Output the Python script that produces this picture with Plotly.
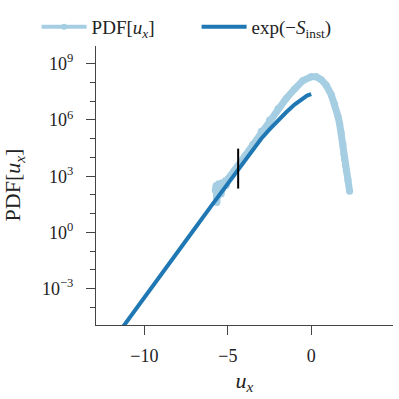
import plotly.graph_objects as go

# PDF[u_x] (u, log10 value)
pdf_u = [-5.75, -5.7, -5.66, -5.6, -5.55, -5.5, -5.45, -5.4, -5.35, -5.3, -5.2,
         -5.1, -5.0, -4.8, -4.6, -4.4, -4.2, -4.0, -3.5, -3.0, -2.5, -2.0, -1.5,
         -1.0, -0.5, 0.0, 0.3, 0.6, 0.9, 1.2, 1.4, 1.6, 1.7, 1.8, 1.9, 1.95, 2.0,
         2.05, 2.1, 2.2, 2.3]
pdf_log = [2.25, 2.5, 1.6, 2.0, 2.6, 2.2, 2.5, 2.05, 2.65, 2.35, 2.6,
           2.5, 2.85, 3.05, 3.3, 3.55, 3.8, 4.05, 4.7, 5.4, 6.0, 6.6, 7.15,
           7.65, 8.1, 8.3, 8.3, 8.15, 7.85, 7.35, 6.85, 6.2, 5.8, 5.3, 4.7, 4.2, 3.9,
           3.6, 3.3, 2.8, 2.2]

# exp(-S_inst)
inst_u = [-11.5, -11, -10, -9, -8, -7, -6, -5, -4.5, -4, -3.5, -3, -2.5, -2,
          -1.5, -1, -0.5, -0.25, 0]
inst_log = [-5.3, -4.7, -3.48, -2.26, -1.04, 0.18, 1.4, 2.62, 3.24, 3.85, 4.44,
            5.0, 5.5, 5.97, 6.41, 6.82, 7.17, 7.3, 7.38]

# vertical marker
bar_u = -4.38
bar_lo, bar_hi = 2.34, 4.47

light = "#a6cee3"
dark = "#1f78b4"
font = "Liberation Serif"

fig = go.Figure()
fig.add_trace(go.Scatter(
    x=pdf_u, y=[10 ** v for v in pdf_log], mode="lines+markers",
    line=dict(color=light, width=7), marker=dict(color=light, size=7),
    showlegend=False))
fig.add_trace(go.Scatter(
    x=inst_u, y=[10 ** v for v in inst_log], mode="lines",
    line=dict(color=dark, width=4), showlegend=False))
fig.add_trace(go.Scatter(
    x=[bar_u, bar_u], y=[10 ** bar_lo, 10 ** bar_hi], mode="lines",
    line=dict(color="black", width=2), showlegend=False))

# legend entries
fig.add_trace(go.Scatter(
    x=[None], y=[None], mode="lines+markers", name="PDF[<i>u<sub>x</sub></i>]",
    line=dict(color=light, width=4), marker=dict(color=light, size=6)))
fig.add_trace(go.Scatter(
    x=[None], y=[None], mode="lines", name="exp(−<i>S</i><sub>inst</sub>)",
    line=dict(color=dark, width=4)))

fig.update_layout(
    width=399, height=399,
    margin=dict(l=96, r=6, t=45, b=74, autoexpand=False),
    paper_bgcolor="white", plot_bgcolor="white",
    font=dict(family=font, size=18, color="#222"),
    legend=dict(orientation="h", x=-0.2, xanchor="left", y=1.065, yanchor="middle",
                itemwidth=45, entrywidth=100, font=dict(size=19)),
)
fig.update_xaxes(
    range=[-12.9, 4.9], showgrid=False, zeroline=False, automargin=False,
    showline=True, linecolor="#444", linewidth=1.2,
    ticks="outside", ticklen=9, tickcolor="#444", ticklabelstandoff=5,
    tickvals=[-10, -5, 0], ticktext=["−10", "−5", "0"],
    title=dict(text="<i>u<sub>x</sub></i>", standoff=7),
)
fig.update_yaxes(
    type="log", range=[-4.94, 10], showgrid=False, zeroline=False, automargin=False,
    showline=True, linecolor="#444", linewidth=1.2,
    ticks="outside", ticklen=9, tickcolor="#444", ticklabelstandoff=9,
    tickvals=[1e-3, 1, 1e3, 1e6, 1e9],
    ticktext=["10<sup>−3</sup>", "10<sup>0</sup>", "10<sup>3</sup>",
              "10<sup>6</sup>", "10<sup>9</sup>"],
    minor=dict(tickvals=[10 ** k for k in range(-4, 11)], ticks="outside",
               ticklen=5, tickcolor="#444"),
    title=dict(text="PDF[<i>u<sub>x</sub></i>]", standoff=24),
)

fig.write_html("out.html", config={"displayModeBar": False},
               post_script="document.body.style.margin='0';document.body.style.overflow='hidden';")
